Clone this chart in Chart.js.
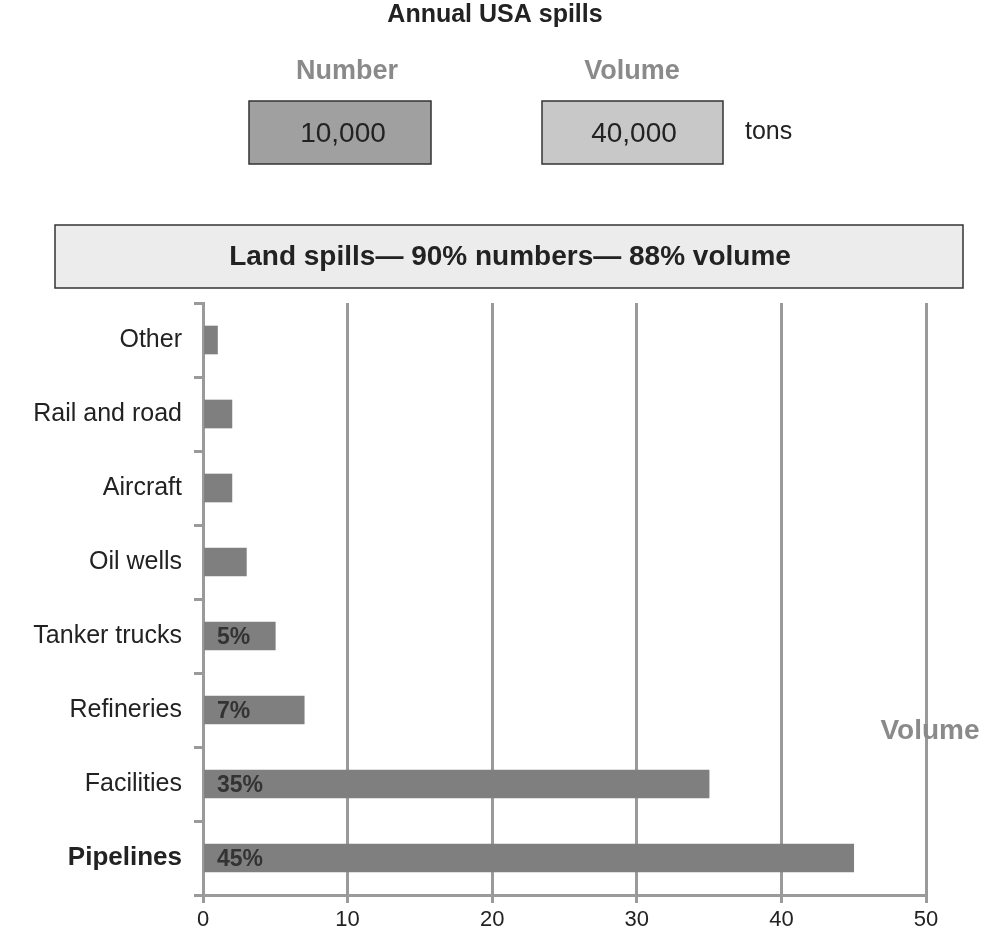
<!DOCTYPE html>
<html>
<head>
<meta charset="utf-8">
<script src="https://cdn.jsdelivr.net/npm/chart.js@4"></script>
<style>
  body { margin: 0; background: #fff; }
  #wrap { width: 991px; height: 941px; position: relative; }
</style>
</head>
<body>
<div id="wrap"><canvas id="chartscreen"></canvas></div>
<script>
// spill sources and their share
const sources = ['Other', 'Rail and road', 'Aircraft', 'Oil wells', 'Tanker trucks', 'Refineries', 'Facilities', 'Pipelines'];
const shares = [1, 2, 2, 3, 5, 7, 35, 45];
const volumeLabels = ['', '', '', '', '5%', '7%', '35%', '45%'];
const xTicks = [0, 10, 20, 30, 40, 50];

const FONT = '"Liberation Sans", Arial, sans-serif';

// header with the boxes and the banner, plus the % labels inside the bars
const headerPlugin = {
  id: 'header',
  afterDraw(chart) {
    const ctx = chart.ctx;
    ctx.save();
    ctx.textBaseline = 'middle';
    ctx.textAlign = 'center';
    ctx.fillStyle = '#222';
    ctx.font = 'bold 25px ' + FONT;
    ctx.fillText('Annual USA spills', 495, 15);

    ctx.fillStyle = '#8a8a8a';
    ctx.font = 'bold 27px ' + FONT;
    ctx.fillText('Number', 347, 72);
    ctx.fillText('Volume', 632, 72);

    ctx.strokeStyle = '#333';
    ctx.lineWidth = 1.5;
    ctx.fillStyle = '#a0a0a0';
    ctx.fillRect(249, 101, 182, 63);
    ctx.strokeRect(249, 101, 182, 63);
    ctx.fillStyle = '#c8c8c8';
    ctx.fillRect(542, 101, 181, 63);
    ctx.strokeRect(542, 101, 181, 63);

    ctx.fillStyle = '#222';
    ctx.font = '28px ' + FONT;
    ctx.fillText('10,000', 343, 134);
    ctx.fillText('40,000', 634, 134);
    ctx.textAlign = 'left';
    ctx.font = '25px ' + FONT;
    ctx.fillText('tons', 745, 132);

    ctx.fillStyle = '#ececec';
    ctx.fillRect(55, 225, 908, 63);
    ctx.strokeRect(55, 225, 908, 63);
    ctx.fillStyle = '#222';
    ctx.textAlign = 'center';
    ctx.font = 'bold 28px ' + FONT;
    ctx.fillText('Land spills\u2014 90% numbers\u2014 88% volume', 510, 257);

    ctx.fillStyle = '#8a8a8a';
    ctx.font = 'bold 28px ' + FONT;
    ctx.fillText('Volume', 930, 731);

    // percent labels inside bars
    const xs = chart.scales.x, ys = chart.scales.y;
    ctx.fillStyle = '#333';
    ctx.textAlign = 'left';
    ctx.font = 'bold 23px ' + FONT;
    for (let i = 0; i < sources.length; i++) {
      if (volumeLabels[i]) ctx.fillText(volumeLabels[i], xs.getPixelForValue(0) + 14, ys.getPixelForValue(i) + 2);
    }
    ctx.restore();
  }
};

new Chart(document.getElementById('chartscreen'), {
  type: 'bar',
  data: {
    labels: sources,
    datasets: [{
      data: shares,
      backgroundColor: '#7f7f7f',
      barThickness: 28
    }]
  },
  options: {
    indexAxis: 'y',
    responsive: true,
    maintainAspectRatio: false,
    animation: false,
    layout: { padding: { top: 303, right: 65, left: 0, bottom: 0 } },
    plugins: { legend: { display: false }, tooltip: { enabled: false } },
    scales: {
      x: {
        min: 0, max: 50,
        afterBuildTicks(scale) { scale.ticks = xTicks.map(v => ({ value: v })); },
        afterFit(scale) { scale.height = 46; },
        grid: { color: '#9a9a9a', lineWidth: 3, tickLength: 8, tickColor: '#9a9a9a' },
        border: { color: '#9a9a9a', width: 3 },
        ticks: { color: '#222', font: { family: FONT, size: 22 }, padding: 4 }
      },
      y: {
        afterFit(scale) { scale.width = 203; },
        grid: { drawOnChartArea: false, offset: true, color: '#9a9a9a', lineWidth: 3, tickLength: 9 },
        border: { color: '#9a9a9a', width: 3 },
        ticks: {
          color: '#222',
          padding: 12,
          font: ctx => ctx.index === 7
            ? { family: FONT, size: 26, weight: 'bold' }
            : { family: FONT, size: 25 }
        }
      }
    }
  },
  plugins: [headerPlugin]
});
</script>
</body>
</html>
